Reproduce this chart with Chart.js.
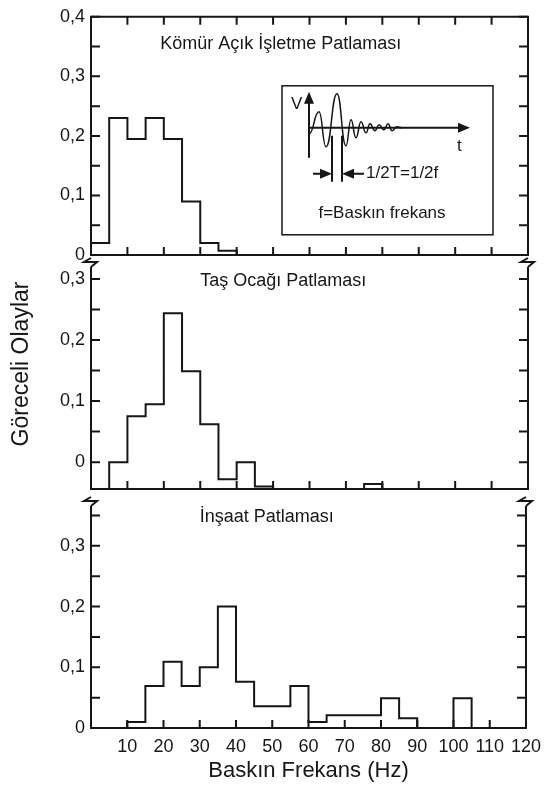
<!DOCTYPE html>
<html>
<head>
<meta charset="utf-8">
<script src="https://cdn.jsdelivr.net/npm/chart.js@4.4.1/dist/chart.umd.min.js"></script>
<style>
  html, body { margin: 0; padding: 0; background: #fff; }
  #wrap { position: relative; width: 549px; height: 798px; }
  #wrap canvas { position: absolute; left: 0; top: 0; }
</style>
</head>
<body>
<div id="wrap">
  <canvas id="p1" width="549" height="798"></canvas>
  <canvas id="p2" width="549" height="798"></canvas>
  <canvas id="p3" width="549" height="798"></canvas>
</div>
<script>
// 5 Hz bins, 0-120 Hz (null = empty bin)
var binStart = [0, 5, 10, 15, 20, 25, 30, 35, 40, 45, 50, 55, 60, 65, 70, 75, 80, 85, 90, 95, 100, 105, 110, 115];
var binEnd = 120;
var komur = [0.02, 0.23, 0.195, 0.23, 0.195, 0.09, 0.02, 0.007, null, null, null, null, null, null, null, null, null, null, null, null, null, null, null, null];
var tasOcagi = [null, 0.0, 0.075, 0.095, 0.244, 0.149, 0.062, -0.028, 0.0, -0.04, null, null, null, null, null, -0.036, null, null, null, null, null, null, null, null];
var insaat = [null, null, 0.01, 0.069, 0.109, 0.069, 0.1, 0.2, 0.076, 0.036, 0.036, 0.069, 0.01, 0.021, 0.021, 0.021, 0.049, 0.016, null, null, 0.049, null, null, null];
var xTicks = [10, 20, 30, 40, 50, 60, 70, 80, 90, 100, 110];

var FONT = '"Liberation Sans", Arial, sans-serif';
var INK = '#161616';
var LEFT = 91, RIGHT = 528;

function stepPoints(values, floor) {
    var pts = binStart.map(function (x, i) {
        return { x: x, y: values[i] === null ? floor : values[i] };
    });
    pts.push({ x: binEnd, y: pts[pts.length - 1].y });
    return pts;
}

function fmtY(v) {
    var t = Math.round(v * 100);
    if (t % 10 !== 0) return '';
    return t === 0 ? '0' : (t / 100).toFixed(1).replace('.', ',');
}

function zigzag(ctx, x, y0) {
    ctx.beginPath();
    ctx.moveTo(x, y0);
    ctx.lineTo(x - 7, y0 + 4);
    ctx.lineTo(x + 6, y0 + 4);
    ctx.lineTo(x, y0 + 9);
    ctx.stroke();
}

function arrowHead(ctx, tx, ty, dx, dy) {
    // tip at (tx,ty), pointing along (dx,dy)
    var px = -dy, py = dx;
    ctx.beginPath();
    ctx.moveTo(tx, ty);
    ctx.lineTo(tx - dx * 12 + px * 5, ty - dy * 12 + py * 5);
    ctx.lineTo(tx - dx * 12 - px * 5, ty - dy * 12 - py * 5);
    ctx.closePath();
    ctx.fill();
}

function drawInset(ctx, ox, oy) {
    ctx.save();
    ctx.lineWidth = 1.5;
    ctx.strokeRect(ox, oy, 211, 149);
    ctx.lineWidth = 2;
    // axes
    ctx.beginPath();
    ctx.moveTo(ox + 27, oy + 72); ctx.lineTo(ox + 27, oy + 16);
    ctx.moveTo(ox + 27, oy + 42); ctx.lineTo(ox + 178, oy + 42);
    ctx.stroke();
    arrowHead(ctx, ox + 27, oy + 6, 0, -1);
    arrowHead(ctx, ox + 188, oy + 42, 1, 0);
    // damped wave through its extrema
    var w = [[27, 48], [37, 26], [44, 61], [55, 8], [64, 60], [69, 34], [74, 52], [79, 36], [84, 47], [88, 38],
             [93, 45], [97, 39], [102, 44], [106, 38], [110, 45], [115, 41], [120, 42]];
    ctx.lineWidth = 1.5;
    ctx.beginPath();
    ctx.moveTo(ox + w[0][0], oy + w[0][1]);
    for (var i = 1; i < w.length; i++) {
        var a = w[i - 1], b = w[i], h = (b[0] - a[0]) / 2;
        ctx.bezierCurveTo(ox + a[0] + h, oy + a[1], ox + b[0] - h, oy + b[1], ox + b[0], oy + b[1]);
    }
    ctx.stroke();
    // half period markers
    ctx.lineWidth = 2;
    ctx.beginPath();
    ctx.moveTo(ox + 50, oy + 50); ctx.lineTo(ox + 50, oy + 96);
    ctx.moveTo(ox + 60, oy + 50); ctx.lineTo(ox + 60, oy + 96);
    ctx.moveTo(ox + 31, oy + 88); ctx.lineTo(ox + 44, oy + 88);
    ctx.moveTo(ox + 82, oy + 88); ctx.lineTo(ox + 66, oy + 88);
    ctx.stroke();
    arrowHead(ctx, ox + 50, oy + 88, 1, 0);
    arrowHead(ctx, ox + 60, oy + 88, -1, 0);
    ctx.font = '17px ' + FONT;
    ctx.textBaseline = 'middle';
    ctx.textAlign = 'left';
    ctx.fillText('1/2T=1/2f', ox + 84, oy + 88);
    ctx.fillText('V', ox + 9, oy + 19);
    ctx.fillText('t', ox + 175, oy + 61);
    ctx.textAlign = 'center';
    ctx.fillText('f=Baskın frekans', ox + 100, oy + 128);
    ctx.restore();
}

var panelPlugin = {
    id: 'panel',
    afterDraw: function (chart, args, o) {
        var ctx = chart.ctx, ca = chart.chartArea;
        var xs = chart.scales.x, ys = chart.scales.y;
        ctx.save();
        ctx.strokeStyle = INK;
        ctx.fillStyle = INK;
        ctx.lineWidth = 2;
        ctx.lineCap = 'butt';
        // frame
        ctx.beginPath();
        if (o.fullBox) {
            ctx.rect(ca.left, ca.top, ca.right - ca.left, ca.bottom - ca.top);
        } else {
            ctx.moveTo(ca.left, ca.top + o.gap + 9); ctx.lineTo(ca.left, ca.bottom);
            ctx.lineTo(ca.right, ca.bottom); ctx.lineTo(ca.right, ca.top + o.gap + 9);
        }
        ctx.stroke();
        if (!o.fullBox) {
            zigzag(ctx, ca.left, ca.top + o.gap);
            zigzag(ctx, ca.right, ca.top + o.gap);
        }
        // inward ticks
        ctx.beginPath();
        xTicks.forEach(function (v) {
            var px = xs.getPixelForValue(v);
            ctx.moveTo(px, ca.bottom); ctx.lineTo(px, ca.bottom - 8);
            if (o.topTicks) { ctx.moveTo(px, ca.top); ctx.lineTo(px, ca.top + 8); }
        });
        ys.ticks.forEach(function (t) {
            var py = ys.getPixelForValue(t.value);
            ctx.moveTo(ca.left, py); ctx.lineTo(ca.left + 9, py);
            ctx.moveTo(ca.right, py); ctx.lineTo(ca.right - 9, py);
        });
        ctx.stroke();
        // panel title
        ctx.font = '18px ' + FONT;
        ctx.textBaseline = 'middle';
        ctx.textAlign = 'left';
        ctx.fillText(o.title, xs.getPixelForValue(o.titleAt), ca.top + 27);
        if (o.inset) drawInset(ctx, ca.right - 246, ca.top + 69);
        if (o.yTitle) {
            ctx.translate(22, 364);
            ctx.rotate(-Math.PI / 2);
            ctx.textAlign = 'center';
            ctx.font = '23px ' + FONT;
            ctx.fillText(o.yTitle, 0, 0);
        }
        ctx.restore();
    }
};

function makePanel(id, values, yMin, yMax, top, bottom, showX, panelOpts) {
    var xh = showX ? 60 : 0;
    return new Chart(document.getElementById(id).getContext('2d'), {
        type: 'line',
        data: {
            datasets: [{
                data: stepPoints(values, yMin),
                stepped: true,
                borderColor: INK,
                borderWidth: 2,
                pointRadius: 0,
                fill: false,
                clip: 4
            }]
        },
        options: {
            responsive: false,
            animation: false,
            events: [],
            layout: { padding: { left: 0, right: 549 - RIGHT, top: top, bottom: 798 - bottom - xh } },
            plugins: { legend: { display: false }, tooltip: { enabled: false }, panel: panelOpts },
            scales: {
                x: {
                    type: 'linear', min: 0, max: 120, display: showX,
                    grid: { display: false, drawTicks: false },
                    border: { display: false },
                    ticks: {
                        stepSize: 10, padding: 8, autoSkip: false, maxRotation: 0,
                        color: INK, font: { size: 18, family: FONT },
                        callback: function (v) { return v === 0 ? '' : v; }
                    },
                    title: {
                        display: true, text: 'Baskın Frekans (Hz)', color: INK,
                        font: { size: 22, family: FONT }, padding: { top: 0, bottom: 4 }
                    },
                    afterFit: function (s) { s.height = xh; }
                },
                y: {
                    min: yMin, max: yMax,
                    grid: { display: false, drawTicks: false },
                    border: { display: false },
                    ticks: {
                        stepSize: 0.05, includeBounds: false, autoSkip: false, padding: 6,
                        color: INK, font: { size: 18, family: FONT },
                        callback: fmtY
                    },
                    afterFit: function (s) { s.width = LEFT; }
                }
            }
        },
        plugins: [panelPlugin]
    });
}

makePanel('p1', komur, 0, 0.4, 11, 255, false,
    { title: 'Kömür Açık İşletme Patlaması', titleAt: 19, fullBox: true, topTicks: true, inset: true });
makePanel('p2', tasOcagi, -0.044, 0.341, 254, 489, false,
    { title: 'Taş Ocağı Patlaması', titleAt: 30, gap: 4, yTitle: 'Göreceli Olaylar' });
makePanel('p3', insaat, 0, 0.392, 490, 728, true,
    { title: 'İnşaat Patlaması', titleAt: 30, gap: 7 });
</script>
</body>
</html>
